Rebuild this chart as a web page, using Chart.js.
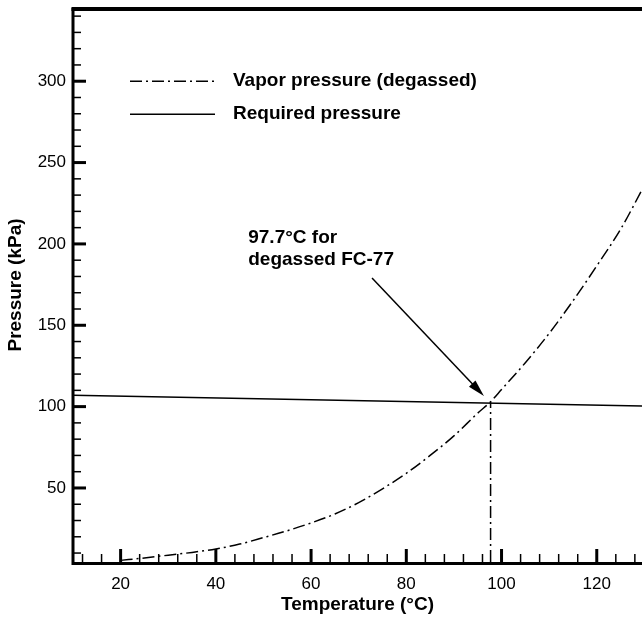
<!DOCTYPE html>
<html><head><meta charset="utf-8">
<script src="https://cdn.jsdelivr.net/npm/chart.js@4.4.0/dist/chart.umd.min.js"></script>
<style>html,body{margin:0;padding:0;background:#fff}#wrap{width:642px;height:618px}</style>
</head><body><div id="wrap"><canvas id="c" width="642" height="618"></canvas></div>
<script>
// ---- data ----
const temperature   = [20, 25, 30, 35, 40, 45, 50, 55, 60, 65, 70, 75, 80, 85, 90, 95, 97.7, 100, 105, 110, 115, 120, 125, 130];
const vaporPressure = [5.5, 7, 8.7, 10.4, 12.5, 15.5, 19.5, 23.7, 28.5, 34, 41, 49.5, 59, 70, 82, 96, 103, 110.5, 127, 145, 165, 186.5, 209, 236];
const requiredTemp     = [10, 130];
const requiredPressure = [107, 100.4];
const crossTemp     = [97.7, 97.7];
const crossPressure = [4.5, 103];
const xMajorTicks = [20, 40, 60, 80, 100, 120];
const yMajorTicks = [50, 100, 150, 200, 250, 300];
const xRange = [10, 129.5];
const yRange = [4.5, 345];
const seriesNames = ['Vapor pressure (degassed)', 'Required pressure'];
const noteLines = ['97.7\u00B0C for', 'degassed FC-77'];

const DASHDOT = [12, 4, 2, 4];
const FONT = "'Liberation Sans', Arial, sans-serif";

const pts = (xs, ys) => xs.map((x, i) => ({x, y: ys[i]}));

const overlay = {
  id: 'overlay',
  afterDatasetsDraw(chart) {
    const {ctx, chartArea: a, scales: {x, y}} = chart;
    ctx.save();
    ctx.strokeStyle = '#000'; ctx.fillStyle = '#000';
    ctx.lineCap = 'butt';
    for (let v = 12; v <= xRange[1]; v += 4) {
      const px = x.getPixelForValue(v);
      const major = xMajorTicks.includes(v);
      ctx.lineWidth = major ? 3 : 1.5;
      ctx.beginPath(); ctx.moveTo(px, a.bottom); ctx.lineTo(px, a.bottom - (major ? 13 : 8)); ctx.stroke();
    }
    for (let v = 10; v <= yRange[1]; v += 10) {
      const py = y.getPixelForValue(v);
      const major = yMajorTicks.includes(v);
      ctx.lineWidth = major ? 3 : 1.5;
      ctx.beginPath(); ctx.moveTo(a.left, py); ctx.lineTo(a.left + (major ? 13 : 8), py); ctx.stroke();
    }
    // spines
    ctx.lineWidth = 3;
    ctx.beginPath(); ctx.moveTo(a.left, a.top); ctx.lineTo(a.left, a.bottom + 1.5); ctx.lineTo(a.right, a.bottom + 1.5); ctx.stroke();
    ctx.lineWidth = 4;
    ctx.beginPath(); ctx.moveTo(a.left - 1.5, a.top + 1); ctx.lineTo(a.right, a.top + 1); ctx.stroke();

    // legend
    const lx0 = a.left + 57, lx1 = a.left + 142, tx = a.left + 160;
    const r1 = y.getPixelForValue(300), r2 = r1 + 33;
    ctx.lineWidth = 1.5;
    ctx.setLineDash(DASHDOT);
    ctx.beginPath(); ctx.moveTo(lx0, r1); ctx.lineTo(lx1, r1); ctx.stroke();
    ctx.setLineDash([]);
    ctx.beginPath(); ctx.moveTo(lx0, r2); ctx.lineTo(lx1, r2); ctx.stroke();
    ctx.font = 'bold 19px ' + FONT;
    ctx.textBaseline = 'middle'; ctx.textAlign = 'left';
    ctx.fillText(seriesNames[0], tx, r1);
    ctx.fillText(seriesNames[1], tx, r2);

    // annotation text
    const nx = x.getPixelForValue(46.8);
    ctx.fillText(noteLines[0], nx, y.getPixelForValue(204));
    ctx.fillText(noteLines[1], nx, y.getPixelForValue(190.5));

    // arrow
    const sx = x.getPixelForValue(72.8), sy = y.getPixelForValue(179);
    const ex = x.getPixelForValue(96.3), ey = y.getPixelForValue(106.5);
    const ang = Math.atan2(ey - sy, ex - sx);
    ctx.lineWidth = 1.5;
    ctx.beginPath(); ctx.moveTo(sx, sy); ctx.lineTo(ex - 10 * Math.cos(ang), ey - 10 * Math.sin(ang)); ctx.stroke();
    const hl = 17, hw = 4.5;
    ctx.beginPath();
    ctx.moveTo(ex, ey);
    ctx.lineTo(ex - hl * Math.cos(ang) + hw * Math.sin(ang), ey - hl * Math.sin(ang) - hw * Math.cos(ang));
    ctx.lineTo(ex - hl * Math.cos(ang) - hw * Math.sin(ang), ey - hl * Math.sin(ang) + hw * Math.cos(ang));
    ctx.closePath(); ctx.fill();
    ctx.restore();
  }
};

new Chart(document.getElementById('c'), {
  type: 'line',
  data: {
    datasets: [
      {label: seriesNames[0], data: pts(temperature, vaporPressure), borderColor: '#000', borderWidth: 1.5,
       borderDash: DASHDOT, pointRadius: 0, cubicInterpolationMode: 'monotone', fill: false},
      {label: seriesNames[1], data: pts(requiredTemp, requiredPressure), borderColor: '#000', borderWidth: 1.5,
       pointRadius: 0, fill: false},
      {label: 'cross', data: pts(crossTemp, crossPressure), borderColor: '#000', borderWidth: 1.5,
       borderDash: DASHDOT, pointRadius: 0, fill: false}
    ]
  },
  options: {
    responsive: false, animation: false, devicePixelRatio: 1,
    layout: {padding: {top: 8, right: 0, left: 0, bottom: 0}},
    plugins: {legend: {display: false}, tooltip: {enabled: false}},
    scales: {
      x: {
        type: 'linear', min: xRange[0], max: xRange[1],
        afterBuildTicks: s => { s.ticks = xMajorTicks.map(v => ({value: v})); },
        afterFit: s => { s.height = 56; s.paddingLeft = 0; s.paddingRight = 0; },
        grid: {display: false, drawTicks: false}, border: {display: false},
        ticks: {color: '#000', font: {family: FONT, size: 17}, padding: 12, maxRotation: 0},
        title: {display: true, text: 'Temperature (\u00B0C)', color: '#000',
                font: {family: FONT, size: 19, weight: 'bold'}, padding: {top: 0, bottom: 2}}
      },
      y: {
        type: 'linear', min: yRange[0], max: yRange[1],
        afterBuildTicks: s => { s.ticks = yMajorTicks.map(v => ({value: v})); },
        afterFit: s => { s.width = 73; s.paddingTop = 0; s.paddingBottom = 0; },
        grid: {display: false, drawTicks: false}, border: {display: false},
        ticks: {color: '#000', font: {family: FONT, size: 17}, padding: 7},
        title: {display: true, text: 'Pressure (kPa)', color: '#000',
                font: {family: FONT, size: 19, weight: 'bold'}, padding: {top: 4, bottom: 0}}
      }
    }
  },
  plugins: [overlay]
});
</script></body></html>
